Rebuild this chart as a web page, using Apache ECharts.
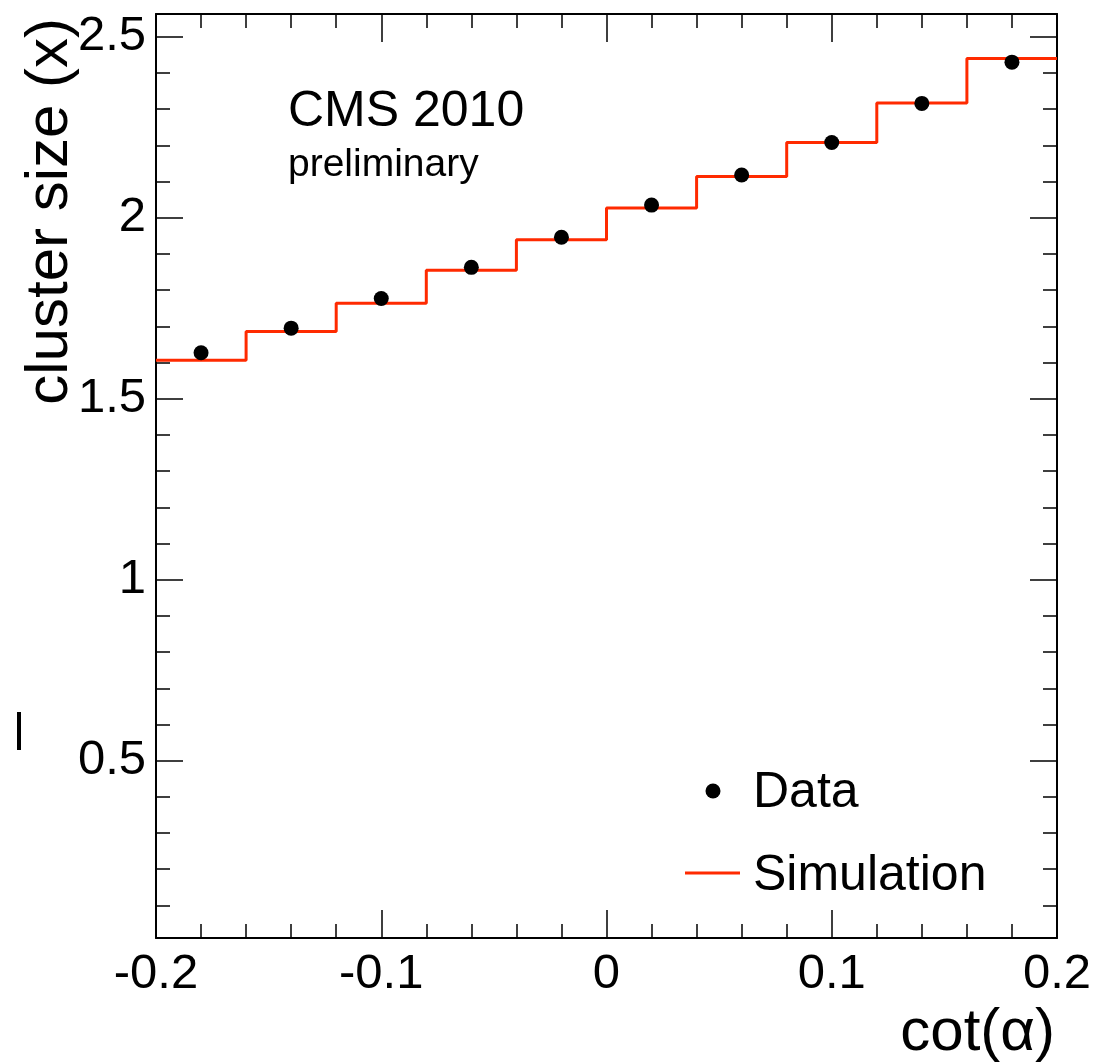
<!DOCTYPE html>
<html>
<head>
<meta charset="utf-8">
<script src="https://cdn.jsdelivr.net/npm/echarts@6/dist/echarts.min.js"></script>
<style>html,body{margin:0;padding:0;background:#fff;}#c{width:1097px;height:1064px;}</style>
</head>
<body>
<div id="c"></div>
<script>
// ---- data ----
const binEdges = [-0.2, -0.16, -0.12, -0.08, -0.04, 0, 0.04, 0.08, 0.12, 0.16, 0.2];
const simValues = [1.606, 1.686, 1.764, 1.855, 1.939, 2.027, 2.114, 2.208, 2.317, 2.440];
const dataX = [-0.18, -0.14, -0.10, -0.06, -0.02, 0.02, 0.06, 0.10, 0.14, 0.18];
const dataValues = [1.627, 1.695, 1.777, 1.863, 1.946, 2.035, 2.118, 2.208, 2.316, 2.430];
const yMajorTicks = [0.5, 1, 1.5, 2, 2.5];
const yMinorTicks = [0.1,0.2,0.3,0.4,0.6,0.7,0.8,0.9,1.1,1.2,1.3,1.4,1.6,1.7,1.8,1.9,2.1,2.2,2.3,2.4];
const legendNames = ['Data', 'Simulation'];

const FONT = "'Liberation Sans', Arial, Helvetica, sans-serif";
const YMIN = 0.01, YMAX = 2.563;
const RED = '#ff2a00';

const simPoints = binEdges.map((e, i) => [e, simValues[Math.min(i, simValues.length - 1)]]);
const dataPoints = dataX.map((x, i) => [x, dataValues[i]]);

const lineStyle = { color: '#000', width: 2 };
const tickStyle = { color: '#000', width: 1.5 };

function xAx(pos, showLabel) {
  return {
    type: 'value', position: pos, min: -0.2, max: 0.2, interval: 0.1,
    axisLine: { show: true, onZero: false, lineStyle: lineStyle },
    axisTick: { show: true, inside: true, length: 28, lineStyle: tickStyle },
    minorTick: { show: true, splitNumber: 5, length: 14, lineStyle: tickStyle },
    axisLabel: { show: showLabel, fontSize: 49, color: '#000', fontFamily: FONT, margin: 12 },
    splitLine: { show: false }
  };
}
function yAx(pos, major, showLabel) {
  return {
    type: 'value', position: pos, min: YMIN, max: YMAX,
    axisLine: { show: major, onZero: false, lineStyle: lineStyle },
    axisTick: { show: true, inside: true, length: major ? 27 : 14, lineStyle: tickStyle,
                customValues: major ? yMajorTicks : yMinorTicks },
    axisLabel: { show: showLabel, fontSize: 49, color: '#000', fontFamily: FONT, margin: 10,
                 customValues: yMajorTicks },
    splitLine: { show: false }
  };
}

const chart = echarts.init(document.getElementById('c'), null, { renderer: 'canvas' });
chart.setOption({
  animation: false,
  backgroundColor: '#fff',
  grid: { left: 156, top: 14, right: 40, bottom: 126, containLabel: false },
  xAxis: [xAx('bottom', true), xAx('top', false)],
  yAxis: [yAx('left', true, true), yAx('left', false, false), yAx('right', true, false), yAx('right', false, false)],
  series: [
    {
      name: 'Simulation', type: 'line', step: 'end', data: simPoints,
      showSymbol: false, symbol: 'none',
      lineStyle: { color: RED, width: 3 }, itemStyle: { color: RED },
      xAxisIndex: 0, yAxisIndex: 0, z: 2
    },
    {
      name: 'Data', type: 'scatter', data: dataPoints, symbol: 'circle', symbolSize: 15,
      itemStyle: { color: '#000', opacity: 1 }, xAxisIndex: 0, yAxisIndex: 0, z: 3
    }
  ],
  graphic: [
    { type: 'text', left: 288, top: 87, style: { text: 'CMS 2010', font: '50px ' + FONT, fill: '#000' } },
    { type: 'text', left: 288, top: 146, style: { text: 'preliminary', font: '39px ' + FONT, fill: '#000' } },
    { type: 'text', x: 50, y: 18, rotation: Math.PI / 2,
      style: { text: 'cluster size (x)', font: '60px ' + FONT, fill: '#000', align: 'right', verticalAlign: 'middle' } },
    { type: 'text', x: 1055, y: 1033,
      style: { text: 'cot(α)', font: '60px ' + FONT, fill: '#000', align: 'right', verticalAlign: 'middle' } },
    // legend
    { type: 'circle', shape: { cx: 713, cy: 791, r: 7.5 }, style: { fill: '#000' } },
    { type: 'text', x: 753, y: 793, style: { text: legendNames[0], font: '50px ' + FONT, fill: '#000', verticalAlign: 'middle' } },
    { type: 'line', shape: { x1: 685, y1: 873, x2: 740, y2: 873 }, style: { stroke: RED, lineWidth: 3 } },
    { type: 'text', x: 753, y: 876, style: { text: legendNames[1], font: '50px ' + FONT, fill: '#000', verticalAlign: 'middle' } },
    { type: 'rect', shape: { x: 17, y: 712, width: 4, height: 38 }, style: { fill: '#000' } }
  ]
});
</script>
</body>
</html>
